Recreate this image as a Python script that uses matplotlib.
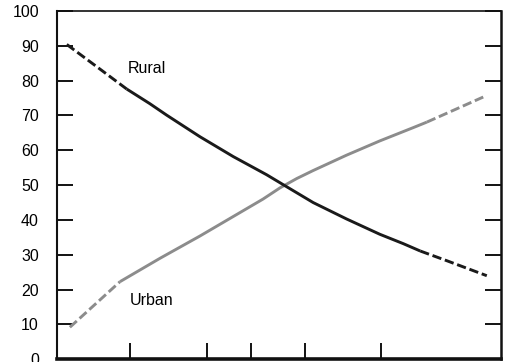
import matplotlib
matplotlib.use("Agg")
import matplotlib.pyplot as plt

plt.rcParams["font.family"] = ["Liberation Sans", "DejaVu Sans"]

# Values (x has no labels; 0-100 across the frame)
rural_x = [2.2, 9.7, 15.7, 20.9, 24.7, 32.2, 39.7, 47.2, 51.0, 57.7,
           65.2, 72.7, 78.0, 81.8, 87.8, 96.8]
rural_y = [90.4, 83.3, 77.6, 73.4, 70.1, 63.9, 58.2, 53.0, 50.1, 45.0,
           40.3, 35.9, 33.2, 31.1, 28.3, 24.0]
rural_solid = (2, 13)    # index range drawn solid, the ends are dashed

urban_x = [2.9, 14.2, 23.2, 32.2, 46.4, 50.2, 54.0, 57.7, 65.2, 72.7, 80.2, 83.3, 96.0]
urban_y = [9.2, 22.3, 29.0, 35.4, 46.0, 49.2, 51.9, 54.2, 58.6, 62.7, 66.5, 68.1, 75.3]
urban_solid = (1, 11)

y_ticks = list(range(0, 101, 10))
x_ticks = [16.4, 33.8, 43.7, 55.9, 73.0]


def draw_series(ax, xs, ys, solid, color):
    a, b = solid
    ax.plot(xs[:a + 1], ys[:a + 1], color=color, lw=2.1, dashes=(3.2, 1.3),
            dash_capstyle="butt")
    ax.plot(xs[a:b + 1], ys[a:b + 1], color=color, lw=2.1,
            solid_capstyle="butt", solid_joinstyle="round")
    ax.plot(xs[b:], ys[b:], color=color, lw=2.1, dashes=(3.2, 1.3),
            dash_capstyle="butt")


fig = plt.figure(figsize=(5.27, 3.62), dpi=100)
ax = fig.add_axes([57 / 527, 2.7 / 362, 444 / 527, (359.3 - 11) / 362])

draw_series(ax, urban_x, urban_y, urban_solid, "#8c8c8c")
draw_series(ax, rural_x, rural_y, rural_solid, "#1a1a1a")

ax.text(16.0, 83.4, "Rural", fontsize=11.5, ha="left", va="center")
ax.text(16.4, 16.9, "Urban", fontsize=11.5, ha="left", va="center")

ax.set_xlim(0, 100)
ax.set_ylim(0, 100)
ax.set_yticks(y_ticks)
ax.set_xticks(x_ticks)
ax.set_xticklabels([])
ax.tick_params(axis="y", direction="in", length=11.5, width=1.3, pad=13,
               labelsize=11.5, right=True)
ax.tick_params(axis="x", direction="in", length=11.5, width=1.3)

for side, w in [("left", 1.5), ("top", 1.2), ("right", 1.8), ("bottom", 2.6)]:
    ax.spines[side].set_linewidth(w)
    ax.spines[side].set_color("#111111")

fig.savefig("out.png", dpi=100)
